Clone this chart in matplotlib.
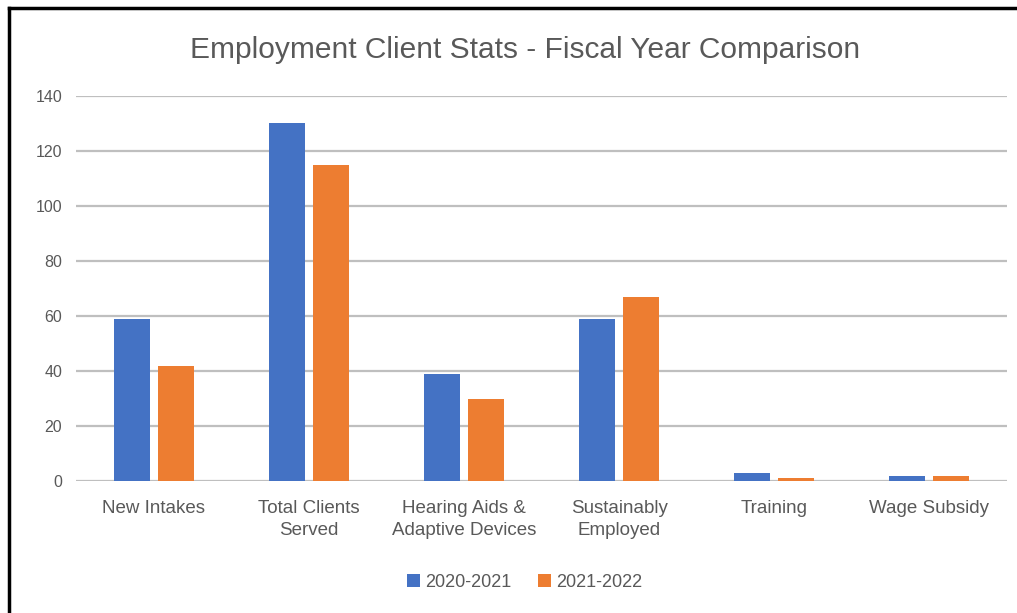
import matplotlib.pyplot as plt
import numpy as np
from matplotlib.lines import Line2D

categories = ['New Intakes', 'Total Clients\nServed', 'Hearing Aids &\nAdaptive Devices',
              'Sustainably\nEmployed', 'Training', 'Wage Subsidy']
fy_2020 = [59, 130, 39, 59, 3, 2]
fy_2021 = [42, 115, 30, 67, 1, 2]
series_names = ['2020-2021', '2021-2022']
yticks = [0, 20, 40, 60, 80, 100, 120, 140]

blue = '#4472C4'
orange = '#ED7D31'
grey = '#595959'
font = ['Liberation Sans', 'DejaVu Sans']

fig = plt.figure(figsize=(10.17, 6.13), dpi=100)
ax = fig.add_axes([0.0747, 0.2153, 0.9155, 0.6281])

x = np.arange(len(categories))
w = 0.232
off = 0.142
ax.bar(x - off, fy_2020, w, color=blue, label=series_names[0], zorder=3)
ax.bar(x + off, fy_2021, w, color=orange, label=series_names[1], zorder=3)

ax.set_xlim(-0.5, len(categories) - 0.5)
ax.set_ylim(0, 140)
ax.set_yticks(yticks)
ax.set_xticks(x)
ax.set_xticklabels(categories, fontsize=13.5, color=grey, family=font, linespacing=1.35)
for t in ax.get_yticklabels():
    t.set_fontsize(11.5)
    t.set_color(grey)
    t.set_family(font)
ax.grid(axis='y', color='#bfbfbf', linewidth=1.6, zorder=0)
for s in ax.spines.values():
    s.set_visible(False)
ax.tick_params(length=0)
ax.tick_params(axis='y', pad=10)
ax.tick_params(axis='x', pad=14)

fig.text(0.516, 0.918, 'Employment Client Stats - Fiscal Year Comparison',
         ha='center', va='center', fontsize=21.5, color=grey, family=font)

fig.legend(loc='center', bbox_to_anchor=(0.516, 0.05), ncol=2, frameon=False,
           prop={'family': font, 'size': 13}, handlelength=0.7, handleheight=0.7,
           handletextpad=0.3, columnspacing=1.5, labelcolor=grey)

# black frame on top and left edges of the screenshot
fig.add_artist(Line2D([0.0085, 1.0], [0.9865, 0.9865], color='black', linewidth=2.5))
fig.add_artist(Line2D([0.0085, 0.0085], [0.0, 0.9865], color='black', linewidth=2.5))

fig.savefig('out.png', dpi=100)
